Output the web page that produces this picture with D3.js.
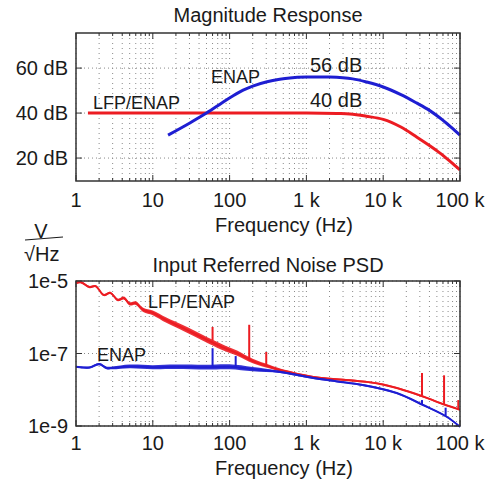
<!DOCTYPE html>
<html>
<head>
<meta charset="utf-8">
<script src="https://cdn.jsdelivr.net/npm/d3@7"></script>
<style>
  body { margin: 0; background: #fff; }
  text { font-family: "Liberation Sans", Arial, sans-serif; fill: #1a1a1a; }
</style>
</head>
<body>
<div id="chart"></div>
<script>
// frequency ticks shared by both panels
const freqTicks = [1, 10, 100, 1000, 10000, 100000];
const freqLabels = ["1", "10", "100", "1 k", "10 k", "100 k"];

// magnitude response (Hz, dB)
const magEnap = [[15.8, 30.2], [30, 35.5], [50, 40], [80, 44.6], [110, 47.6], [150, 50.2], [200, 52], [308, 53.9],
  [450, 55], [610, 55.6], [1000, 56], [2000, 56], [4000, 55.2], [6100, 53.8], [10000, 51.6], [17000, 48.2],
  [27500, 44.4], [40000, 41.2], [55000, 37.8], [75000, 34], [100000, 30.2]];
const magLfp = [[1.43, 40], [10, 40], [100, 40], [1000, 40], [2500, 39.8], [3700, 39.6], [6000, 38.6], [10000, 37.2],
  [17000, 33.8], [27500, 29.3], [40000, 25.6], [55000, 22.2], [75000, 18.4], [100000, 14.7]];
const magTicks = [20, 40, 60];

// noise PSD (Hz, V/sqrt(Hz))
const psdLfp = [[1, 8.7e-6], [1.15, 9.3e-6], [1.5, 6.8e-6], [1.8, 7.2e-6], [2.3, 4.1e-6], [2.8, 4.7e-6], [3.5, 3.0e-6],
  [4.2, 3.4e-6], [5, 2.35e-6], [6, 2.45e-6], [7.5, 1.6e-6], [10, 1.32e-6], [15, 8.3e-7], [25, 5.0e-7], [45, 2.7e-7],
  [80, 1.5e-7], [125, 1.02e-7], [200, 6.2e-8], [335, 4.3e-8], [455, 3.5e-8], [1230, 2.25e-8], [3000, 1.9e-8],
  [6000, 1.65e-8], [9100, 1.45e-8], [15000, 1.12e-8], [24500, 8.1e-9], [40000, 5.6e-9], [55000, 4.3e-9], [100000, 2.8e-9]];
const psdEnap = [[1, 4.3e-8], [1.5, 4.1e-8], [2, 5.1e-8], [2.5, 4.0e-8], [3, 4.0e-8], [5, 4.4e-8], [10, 4.2e-8],
  [20, 4.3e-8], [50, 4.2e-8], [100, 4.3e-8], [200, 3.7e-8], [455, 3.1e-8], [1230, 2.1e-8], [2500, 1.7e-8],
  [5400, 1.35e-8], [15000, 8.1e-9], [33000, 3.8e-9], [67000, 1.8e-9], [100000, 9.5e-10]];
// noisy band half-width in decades
const bandLfp = [[3, 0.03], [8, 0.06], [20, 0.08], [100, 0.08], [300, 0.05], [1000, 0.03], [100000, 0.02]];
const bandEnap = [[2, 0.03], [5, 0.05], [20, 0.06], [150, 0.07], [400, 0.03], [100000, 0.02]];
// spikes [Hz, base, top]
const spikesLfp = [[60, 2.3e-7, 5.4e-7], [180, 6.6e-8, 6.2e-7], [300, 4.6e-8, 1.1e-7], [32000, 6.9e-9, 2.9e-8],
  [62000, 4.0e-9, 2.5e-8], [95000, 2.9e-9, 5.2e-9]];
const spikesEnap = [[60, 4.2e-8, 1.4e-7], [120, 4.2e-8, 8.5e-8], [32000, 3.9e-9, 5.2e-9], [65000, 1.9e-9, 3.2e-9]];
const psdTicks = [1e-9, 1e-7, 1e-5];
const psdTickLabels = ["1e-9", "1e-7", "1e-5"];

const width = 499, height = 485;
const red = "#ec1c22", blue = "#1e1ed2";

const svg = d3.select("#chart").append("svg")
    .attr("width", width)
    .attr("height", height);

const x = d3.scaleLog().domain([1, 100000]).range([76, 460]);

// minor positions 2..9 in each decade
const minorX = [];
for (let p = 0; p < 5; p++) {
  for (let m = 1; m < 10; m++) minorX.push(m * Math.pow(10, p));
}
minorX.push(100000);

function panel(y, yTicks, yLabels, title, titleY, tickY, labelY) {
  const g = svg.append("g");
  const [y1, y0] = y.range();

  // dotted grid
  g.selectAll(".vg").data(minorX).enter().append("line")
      .attr("x1", d => x(d)).attr("x2", d => x(d))
      .attr("y1", y0).attr("y2", y1)
      .style("stroke", "#8a8a8a").style("stroke-width", 1)
      .style("stroke-dasharray", "1,4");
  g.selectAll(".hg").data(yTicks).enter().append("line")
      .attr("x1", x.range()[0]).attr("x2", x.range()[1])
      .attr("y1", d => y(d)).attr("y2", d => y(d))
      .style("stroke", "#8a8a8a").style("stroke-width", 1)
      .style("stroke-dasharray", "1,3");

  // inward ticks
  g.selectAll(".tb").data(minorX).enter().append("line")
      .attr("x1", d => x(d)).attr("x2", d => x(d))
      .attr("y1", y1).attr("y2", d => y1 - (freqTicks.includes(d) ? 6 : 3))
      .style("stroke", "#333");
  g.selectAll(".tt").data(minorX).enter().append("line")
      .attr("x1", d => x(d)).attr("x2", d => x(d))
      .attr("y1", y0).attr("y2", d => y0 + (freqTicks.includes(d) ? 6 : 3))
      .style("stroke", "#333");
  g.selectAll(".tl").data(yTicks).enter().append("line")
      .attr("x1", 76).attr("x2", 82)
      .attr("y1", d => y(d)).attr("y2", d => y(d))
      .style("stroke", "#333");
  g.selectAll(".tr").data(yTicks).enter().append("line")
      .attr("x1", 460).attr("x2", 454)
      .attr("y1", d => y(d)).attr("y2", d => y(d))
      .style("stroke", "#333");

  // labels
  g.selectAll(".xl").data(freqTicks).enter().append("text")
      .attr("x", d => x(d)).attr("y", tickY)
      .attr("text-anchor", "middle").attr("dominant-baseline", "central")
      .style("font-size", "20px")
      .text((d, i) => freqLabels[i]);
  g.selectAll(".yl").data(yTicks).enter().append("text")
      .attr("x", 68).attr("y", d => y(d))
      .attr("text-anchor", "end").attr("dominant-baseline", "central")
      .style("font-size", "20px")
      .text((d, i) => yLabels[i]);
  g.append("text").attr("x", 284).attr("y", labelY)
      .attr("text-anchor", "middle").attr("dominant-baseline", "central")
      .style("font-size", "20px").text("Frequency (Hz)");
  g.append("text").attr("x", 268).attr("y", titleY)
      .attr("text-anchor", "middle").attr("dominant-baseline", "central")
      .style("font-size", "20px").text(title);
  return g;
}

function frame(y) {
  const [y1, y0] = y.range();
  svg.append("rect")
      .attr("x", 76).attr("y", y0)
      .attr("width", 384).attr("height", y1 - y0)
      .style("fill", "none").style("stroke", "#333").style("stroke-width", 1.5);
}

// ---- Magnitude Response ----
const yMag = d3.scaleLinear().domain([9.8, 75.6]).range([181, 33]);
const gMag = panel(yMag, magTicks, magTicks.map(d => d + " dB"), "Magnitude Response", 15, 200, 225);

const lineMag = d3.line().curve(d3.curveCatmullRom.alpha(0.5))
    .x(d => x(d[0])).y(d => yMag(d[1]));
gMag.append("path").datum(magLfp).attr("d", lineMag)
    .style("fill", "none").style("stroke", red).style("stroke-width", 3);
gMag.append("path").datum(magEnap).attr("d", lineMag)
    .style("fill", "none").style("stroke", blue).style("stroke-width", 3);
frame(yMag);

gMag.append("text").attr("x", 93).attr("y", 103).attr("dominant-baseline", "central")
    .style("font-size", "18px").text("LFP/ENAP");
gMag.append("text").attr("x", 211).attr("y", 77).attr("dominant-baseline", "central")
    .style("font-size", "18px").text("ENAP");
gMag.append("text").attr("x", 310).attr("y", 65).attr("dominant-baseline", "central")
    .style("font-size", "20px").text("56 dB");
gMag.append("text").attr("x", 310).attr("y", 100).attr("dominant-baseline", "central")
    .style("font-size", "20px").text("40 dB");

// ---- Input Referred Noise PSD ----
const yPsd = d3.scaleLog().domain([1e-9, 1e-5]).range([426, 281]);
const gPsd = panel(yPsd, psdTicks, psdTickLabels, "Input Referred Noise PSD", 265, 443, 468);

const interp = (arr, f) => {
  const lf = Math.log10(f);
  for (let i = 1; i < arr.length; i++) {
    const a = Math.log10(arr[i - 1][0]), b = Math.log10(arr[i][0]);
    if (lf <= b) {
      const t = Math.max(0, (lf - a) / (b - a));
      return arr[i - 1][1] + t * (arr[i][1] - arr[i - 1][1]);
    }
  }
  return arr[arr.length - 1][1];
};

function drawPsd(data, band, spikes, color) {
  const curve = d3.curveCatmullRom.alpha(0.5);
  const area = d3.area().curve(curve)
      .x(d => x(d[0]))
      .y0(d => yPsd(d[1] * Math.pow(10, -interp(band, d[0]))))
      .y1(d => yPsd(d[1] * Math.pow(10, interp(band, d[0]))));
  gPsd.append("path").datum(data).attr("d", area)
      .style("fill", color).style("opacity", 0.9);
  const line = d3.line().curve(curve)
      .x(d => x(d[0])).y(d => yPsd(d[1]));
  gPsd.append("path").datum(data).attr("d", line)
      .style("fill", "none").style("stroke", color).style("stroke-width", 2);
  gPsd.selectAll(null).data(spikes).enter().append("line")
      .attr("x1", d => x(d[0])).attr("x2", d => x(d[0]))
      .attr("y1", d => yPsd(d[1])).attr("y2", d => yPsd(d[2]))
      .style("stroke", color).style("stroke-width", 2);
}
drawPsd(psdLfp, bandLfp, spikesLfp, red);
drawPsd(psdEnap, bandEnap, spikesEnap, blue);
frame(yPsd);

gPsd.append("text").attr("x", 148).attr("y", 302).attr("dominant-baseline", "central")
    .style("font-size", "18px").text("LFP/ENAP");
gPsd.append("text").attr("x", 97).attr("y", 355).attr("dominant-baseline", "central")
    .style("font-size", "18px").text("ENAP");

// unit label V / sqrt(Hz)
svg.append("text").attr("x", 41).attr("y", 231).attr("text-anchor", "middle")
    .attr("dominant-baseline", "central").style("font-size", "20px").text("V");
svg.append("line").attr("x1", 25).attr("x2", 63).attr("y1", 240).attr("y2", 237)
    .style("stroke", "#1a1a1a").style("stroke-width", 1.2);
svg.append("text").attr("x", 24).attr("y", 254)
    .attr("dominant-baseline", "central").style("font-size", "20px").text("\u221AHz");
</script>
</body>
</html>
